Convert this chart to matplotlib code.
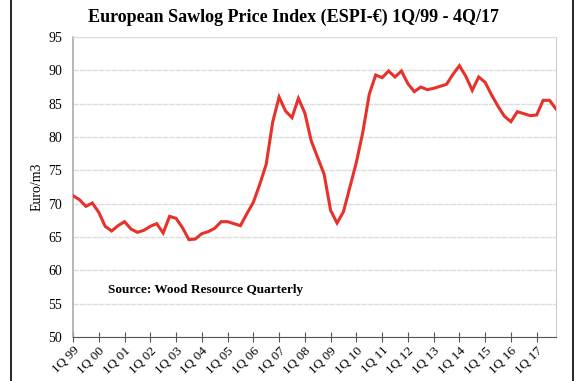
import matplotlib.pyplot as plt
from matplotlib.lines import Line2D
import numpy as np

# quarterly index values, 1Q99 .. 4Q17
espi = [71.2, 70.6, 69.6, 70.1, 68.7, 66.6, 65.9, 66.7, 67.3, 66.2,
        65.7, 66.0, 66.6, 67.0, 65.6, 68.1, 67.8, 66.4, 64.6, 64.7,
        65.5, 65.8, 66.3, 67.3, 67.3, 67.0, 66.7, 68.5, 70.2, 72.9,
        75.9, 82.2, 86.0, 83.9, 82.9, 85.8, 83.6, 79.4, 76.9, 74.4,
        69.0, 67.1, 68.8, 72.5, 76.2, 80.7, 86.4, 89.3, 88.9, 89.9,
        89.0, 89.9, 88.0, 86.8, 87.5, 87.1, 87.3, 87.6, 87.9, 89.4,
        90.7, 89.1, 87.0, 89.0, 88.2, 86.3, 84.6, 83.1, 82.3, 83.8,
        83.5, 83.2, 83.3, 85.5, 85.5, 84.2]
years = ['99', '00', '01', '02', '03', '04', '05', '06', '07', '08',
         '09', '10', '11', '12', '13', '14', '15', '16', '17']
tick_labels = ['1Q ' + y for y in years]
yticks = [50, 55, 60, 65, 70, 75, 80, 85, 90, 95]

serif = 'Liberation Serif'
fig = plt.figure(figsize=(5.86, 3.81), dpi=100)
ax = fig.add_axes([73/586, 1-337/381, (556-73)/586, (337-37)/381])

q = np.arange(len(espi))
ax.plot(q, espi, color='#e8312a', lw=2.2, solid_joinstyle='miter', zorder=3)

ax.set_xlim(0, len(espi) - 1)
ax.set_ylim(50, 95)
ax.set_yticks(yticks)
ax.set_yticklabels([str(v) for v in yticks], fontfamily=serif, fontsize=10)
ax.set_xticks(np.arange(len(years)) * 4)
ax.set_xticklabels(tick_labels, rotation=45, ha='right', va='top',
                   rotation_mode='anchor', fontfamily=serif, fontsize=9.5)
ax.tick_params(axis='x', direction='inout', length=7, width=0.8,
               color='#555555', pad=2)
ax.tick_params(axis='y', length=0, pad=8)
ax.grid(axis='y', color='#dddddd', lw=1.0, ls=(0, (4, 0.6)))
ax.set_axisbelow(True)

ax.spines['bottom'].set_color('#555555')
ax.spines['left'].set_color('#aaaaaa')
ax.spines['left'].set_linewidth(1.2)
ax.spines['right'].set_color('#cccccc')
ax.spines['top'].set_color('#dddddd')

ax.set_ylabel('Euro/m3', fontfamily=serif, fontsize=10, labelpad=3)
ax.text(5.4, 57.0, 'Source: Wood Resource Quarterly', fontfamily=serif,
        fontweight='bold', fontsize=9.5, va='center', ha='left')

fig.text(293/586, 1-17/381, 'European Sawlog Price Index (ESPI-\u20ac) 1Q/99 - 4Q/17',
         fontfamily=serif, fontweight='bold', fontsize=13, ha='center', va='center')

# outer frame lines
fig.add_artist(Line2D([11/586, 11/586], [0, 1], transform=fig.transFigure,
                      color='black', lw=1.2))
fig.add_artist(Line2D([573/586, 573/586], [0, 1], transform=fig.transFigure,
                      color='black', lw=1.2))

fig.savefig('out.png', dpi=100)
